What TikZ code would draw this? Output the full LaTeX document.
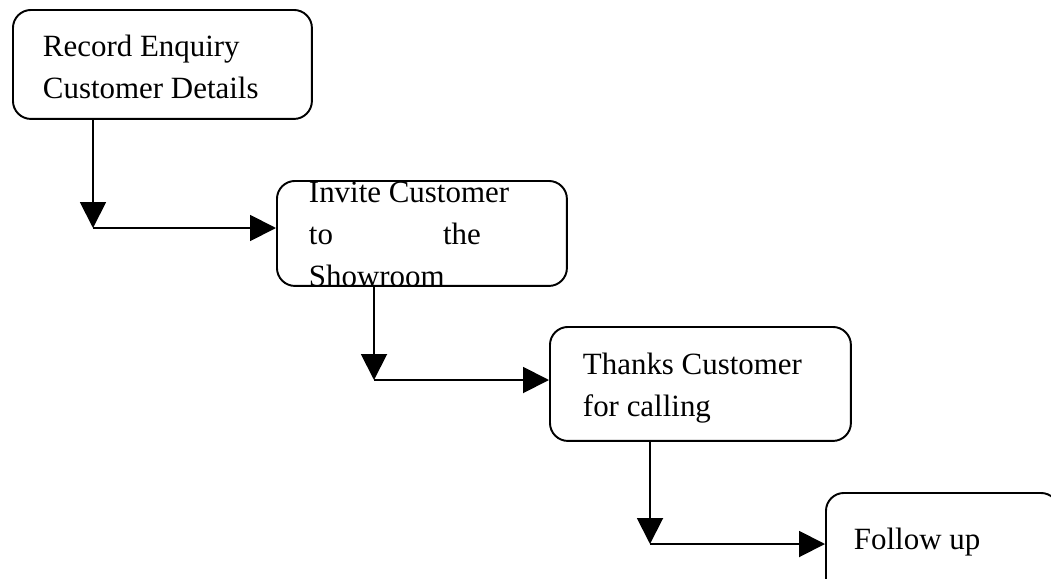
\documentclass[tikz,border=0pt]{standalone}
\usepackage{fontspec}
\setmainfont{Liberation Serif}
\usepackage{tikz}
\usetikzlibrary{positioning, arrows.meta, calc}

\begin{document}
\begin{tikzpicture}[
    x=0.02cm, y=-0.02cm,
    line width=1.1pt,
    stage/.style={draw, rounded corners=0.36cm, minimum width=#1, inner sep=0pt, anchor=north west},
    stagetext/.style={inner sep=0pt, anchor=north west, align=left,
        font=\fontsize{17.6pt}{24pt}\selectfont},
    flow/.style={-{Triangle[length=0.52cm, width=0.52cm]}}
]
    \useasboundingbox (0,0) rectangle (1051,578);

    % Four stages going down to the right:
    \node[stage=5.98cm, minimum height=2.18cm] (enquiry) at (12,9) {};
    \node[stage=5.80cm, minimum height=2.10cm] (invite) at (276,180) {};
    \node[stage=6.02cm, minimum height=2.28cm] (thanks) at (549,326) {};
    \node[stage=4.66cm, minimum height=2.12cm] (followup) at (825,492) {};

    \node[stagetext] (enquirytext) at ($(enquiry.north west)+(30,25)$) {Record Enquiry\\Customer Details};
    \node[stagetext] (invitetext) at ($(invite.north west)+(32,1)$) {Invite Customer\\to\hspace{2.2cm}the\\Showroom};
    \node[stagetext] (thankstext) at ($(thanks.north west)+(33,26)$) {Thanks Customer\\for calling};
    \node[stagetext] (followuptext) at ($(followup.north west)+(28,35)$) {Follow up};

    \coordinate (turn1) at (93,228);
    \coordinate (turn2) at (374,380);
    \coordinate (turn3) at (650,544);

    \draw[flow] (enquiry.south -| turn1) -- (turn1);
    \draw[flow] (turn1) -- (turn1 -| invite.west);
    \draw[flow] (invite.south -| turn2) -- (turn2);
    \draw[flow] (turn2) -- (turn2 -| thanks.west);
    \draw[flow] (thanks.south -| turn3) -- (turn3);
    \draw[flow] (turn3) -- (turn3 -| followup.west);
\end{tikzpicture}
\end{document}
